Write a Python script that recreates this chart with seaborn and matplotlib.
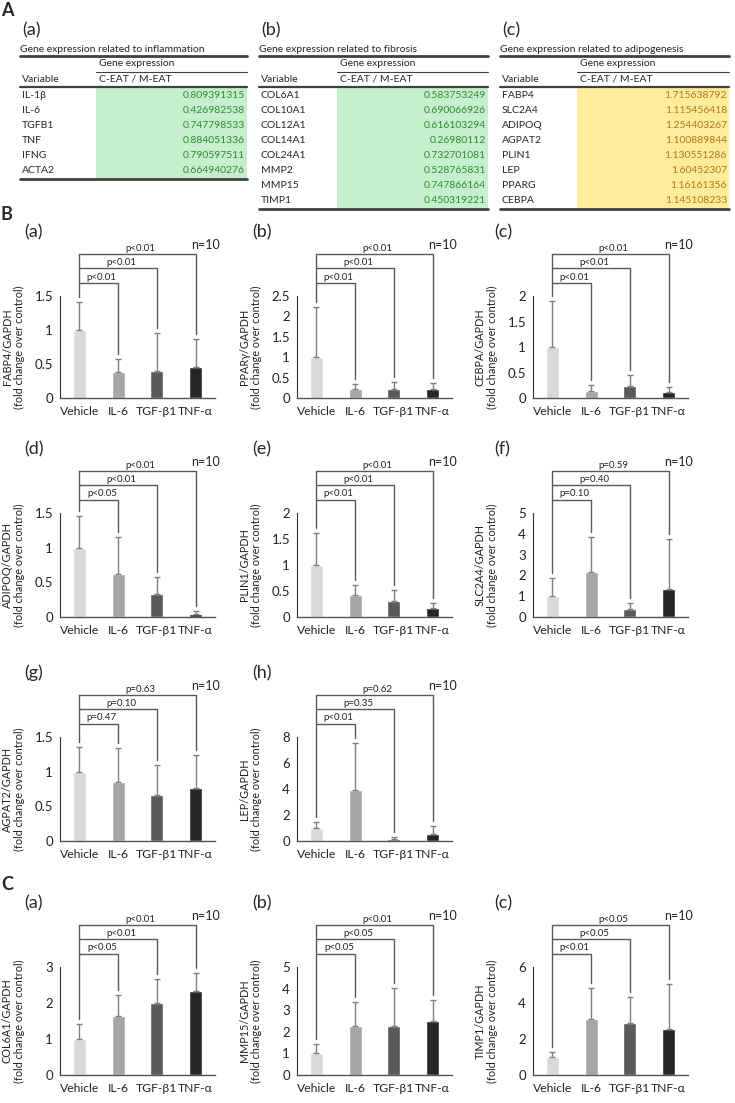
import numpy as np
import pandas as pd
import seaborn as sns
import matplotlib.pyplot as plt
import matplotlib.transforms as mtransforms
from matplotlib.patches import Rectangle

sns.set_style("white")
plt.rcParams['font.family'] = ['Lato', 'Roboto', 'DejaVu Sans']

# ---- data -------------------------------------------------------------
groups = ["Vehicle", "IL-6", "TGF-β1", "TNF-α"]
bar_colors = ["#d9d9d9", "#a6a6a6", "#595959", "#262626"]

infl_genes = ["IL-1β", "IL-6", "TGFB1", "TNF", "IFNG", "ACTA2"]
infl_ratio = [0.809391315, 0.426982538, 0.747798533, 0.884051336, 0.790597511, 0.664940276]
fib_genes = ["COL6A1", "COL10A1", "COL12A1", "COL14A1", "COL24A1", "MMP2", "MMP15", "TIMP1"]
fib_ratio = [0.583753249, 0.690066926, 0.616103294, 0.26980112, 0.732701081,
             0.528765831, 0.747866164, 0.450319221]
adipo_genes = ["FABP4", "SLC2A4", "ADIPOQ", "AGPAT2", "PLIN1", "LEP", "PPARG", "CEBPA"]
adipo_ratio = [1.715638792, 1.115456418, 1.254403267, 1.100889844, 1.130551286,
               1.60452307, 1.16161356, 1.145108233]

fabp4_mean = [1.0, 0.38, 0.40, 0.46];  fabp4_sd = [0.41, 0.19, 0.55, 0.41]
pparg_mean = [1.0, 0.22, 0.22, 0.22];  pparg_sd = [1.22, 0.13, 0.18, 0.15]
cebpa_mean = [1.0, 0.13, 0.24, 0.11];  cebpa_sd = [0.90, 0.12, 0.21, 0.11]
adipoq_mean = [1.0, 0.62, 0.33, 0.04]; adipoq_sd = [0.46, 0.54, 0.24, 0.04]
plin1_mean = [1.0, 0.43, 0.31, 0.18];  plin1_sd = [0.62, 0.19, 0.21, 0.09]
slc2a4_mean = [1.0, 2.15, 0.40, 1.35]; slc2a4_sd = [0.87, 1.70, 0.25, 2.40]
agpat2_mean = [1.0, 0.85, 0.67, 0.77]; agpat2_sd = [0.36, 0.49, 0.42, 0.47]
lep_mean = [1.0, 3.9, 0.15, 0.55];     lep_sd = [0.45, 3.65, 0.15, 0.60]
col6a1_mean = [1.0, 1.65, 2.0, 2.32];  col6a1_sd = [0.43, 0.57, 0.68, 0.50]
mmp15_mean = [1.0, 2.25, 2.28, 2.48];  mmp15_sd = [0.45, 1.15, 1.74, 0.97]
timp1_mean = [1.0, 3.1, 2.9, 2.55];    timp1_sd = [0.30, 1.75, 1.45, 2.50]

fabp4_p = ["p<0.01", "p<0.01", "p<0.01"]
pparg_p = ["p<0.01", "p<0.01", "p<0.01"]
cebpa_p = ["p<0.01", "p<0.01", "p<0.01"]
adipoq_p = ["p<0.05", "p<0.01", "p<0.01"]
plin1_p = ["p<0.01", "p<0.01", "p<0.01"]
slc2a4_p = ["p=0.10", "p=0.40", "p=0.59"]
agpat2_p = ["p=0.47", "p=0.10", "p=0.63"]
lep_p = ["p<0.01", "p=0.35", "p=0.62"]
col6a1_p = ["p<0.05", "p<0.01", "p<0.01"]
mmp15_p = ["p<0.05", "p<0.05", "p<0.01"]
timp1_p = ["p<0.01", "p<0.05", "p<0.05"]

# ---- layout (pixels) ----------------------------------------------------
W, H = 735, 1103
row_tops = [296, 513, 737, 967]
row_h = [102, 104, 104, 108]
col_lefts = [60, 297, 533]
col_w = 155
label_x = [24, 252, 494]

fig = plt.figure(figsize=(W / 100, H / 100), dpi=100)
ov = fig.add_axes([0, 0, 1, 1])
ov.set_xlim(0, W)
ov.set_ylim(H, 0)
ov.axis('off')

# ---- tables --------------------------------------------------------------
def draw_table(x0, x1, xs, letter, title, genes, vals, fill, tcol):
    ov.text(x0 + 2, 30, letter, fontsize=13, va='center', ha='left')
    ov.text(x0, 49, title, fontsize=7.5, va='center')
    ov.plot([x0, x1], [56, 56], color='#404040', lw=2)
    ov.text(xs + 3, 64, "Gene expression", fontsize=7.5, va='center')
    ov.plot([xs, x1], [71.5, 71.5], color='#404040', lw=0.8)
    ov.text(x0 + 2, 79, "Variable", fontsize=7.5, va='center')
    ov.text(xs + 3, 79, "C-EAT / M-EAT", fontsize=7.5, va='center')
    ov.plot([x0, x1], [87, 87], color='#404040', lw=1.6)
    rh = 15
    ov.add_patch(Rectangle((xs, 88), x1 - xs, rh * len(genes), color=fill, lw=0))
    for i, (g, v) in enumerate(zip(genes, vals)):
        y = 95.5 + rh * i
        ov.text(x0 + 2, y, g, fontsize=7.5, va='center')
        ov.text(x1 - 2, y, str(v), fontsize=7.5, va='center', ha='right', color=tcol)
    yb = 88 + rh * len(genes) + 1
    ov.plot([x0, x1], [yb, yb], color='#404040', lw=2)

ov.text(1, 10, "A", fontsize=13, fontweight='bold', va='center')
draw_table(20, 247, 96, "(a)", "Gene expression related to inflammation",
           infl_genes, infl_ratio, "#c6efce", "#2f8a2f")
draw_table(259, 488, 337, "(b)", "Gene expression related to fibrosis",
           fib_genes, fib_ratio, "#c6efce", "#2f8a2f")
draw_table(500, 729, 577, "(c)", "Gene expression related to adipogenesis",
           adipo_genes, adipo_ratio, "#ffeb9c", "#b07818")

ov.text(1, 215, "B", fontsize=13, fontweight='bold', va='center')
ov.text(1, 885, "C", fontsize=13, fontweight='bold', va='center')

# ---- bar panels ------------------------------------------------------------
def draw_panel(row, col, letter, gene, means, sds, ymax, ystep, pvals):
    top = row_tops[row]
    h = row_h[row]
    left = col_lefts[col]
    ax = fig.add_axes([left / W, 1 - (top + h) / H, col_w / W, h / H])
    df = pd.DataFrame({"group": groups, "value": means})
    sns.barplot(data=df, x="group", y="value", hue="group", palette=bar_colors,
                width=0.33, saturation=1, legend=False, ax=ax)
    ax.errorbar(np.arange(4), means, yerr=[np.zeros(4), sds], fmt='none',
                ecolor='#7f7f7f', elinewidth=1, capsize=2.5, capthick=1, clip_on=False)
    ax.set_xlim(-0.5, 3.5)
    ax.set_ylim(0, ymax)
    ticks = np.arange(0, ymax + ystep / 2, ystep)
    ax.set_yticks(ticks)
    ax.set_yticklabels([f"{t:g}" for t in ticks])
    ax.tick_params(axis='both', length=0, colors='#222222')
    ax.tick_params(axis='y', pad=5, labelsize=9.5)
    ax.tick_params(axis='x', pad=6, labelsize=8.7)
    ax.set_xlabel("")
    ax.set_ylabel(f"{gene}/GAPDH\n(fold change over control)", fontsize=7.8,
                  linespacing=1.15, color='#222222')
    ax.yaxis.set_label_coords(-0.225, 0.5)
    for s in ['top', 'right']:
        ax.spines[s].set_visible(False)
    ax.spines['left'].set_color('#333333')
    ax.spines['bottom'].set_color('#555555')
    ax.spines['left'].set_linewidth(0.8)
    ax.spines['bottom'].set_linewidth(1.0)

    trans = mtransforms.blended_transform_factory(ax.transData, ax.transAxes)
    px = 1.0 / h
    levels = [1 + 13 * px, 1 + 28 * px, 1 + 42 * px]
    caps = [m + s for m, s in zip(means, sds)]
    ax.plot([0, 0], [levels[2], caps[0] / ymax + 5 * px], color='#595959', lw=1,
            transform=trans, clip_on=False)
    for i, (lv, p) in enumerate(zip(levels, pvals), start=1):
        ax.plot([0, i, i], [lv, lv, caps[i] / ymax + 5 * px], color='#595959', lw=1,
                transform=trans, clip_on=False)
        ax.text(i / 2 + 0.08, lv + 1.5 * px, p, fontsize=7, ha='center', va='bottom',
                transform=trans, color='#222222')
    ax.text(1.03, 1 + 51 * px, "n=10", fontsize=9, ha='right', va='center',
            transform=ax.transAxes, color='#222222')
    ov.text(label_x[col], top - 64, letter, fontsize=13, va='center', ha='left')

draw_panel(0, 0, "(a)", "FABP4", fabp4_mean, fabp4_sd, 1.5, 0.5, fabp4_p)
draw_panel(0, 1, "(b)", "PPARγ", pparg_mean, pparg_sd, 2.5, 0.5, pparg_p)
draw_panel(0, 2, "(c)", "CEBPA", cebpa_mean, cebpa_sd, 2.0, 0.5, cebpa_p)
draw_panel(1, 0, "(d)", "ADIPOQ", adipoq_mean, adipoq_sd, 1.5, 0.5, adipoq_p)
draw_panel(1, 1, "(e)", "PLIN1", plin1_mean, plin1_sd, 2.0, 0.5, plin1_p)
draw_panel(1, 2, "(f)", "SLC2A4", slc2a4_mean, slc2a4_sd, 5, 1, slc2a4_p)
draw_panel(2, 0, "(g)", "AGPAT2", agpat2_mean, agpat2_sd, 1.5, 0.5, agpat2_p)
draw_panel(2, 1, "(h)", "LEP", lep_mean, lep_sd, 8, 2, lep_p)
draw_panel(3, 0, "(a)", "COL6A1", col6a1_mean, col6a1_sd, 3, 1, col6a1_p)
draw_panel(3, 1, "(b)", "MMP15", mmp15_mean, mmp15_sd, 5, 1, mmp15_p)
draw_panel(3, 2, "(c)", "TIMP1", timp1_mean, timp1_sd, 6, 2, timp1_p)

fig.savefig("out.png", dpi=100)
